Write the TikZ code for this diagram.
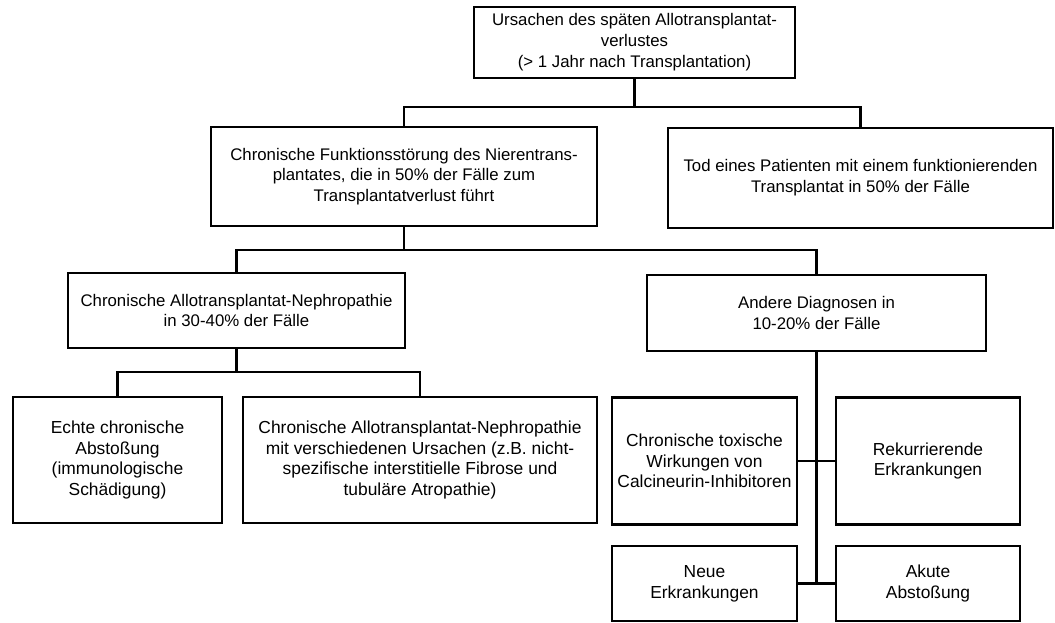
\documentclass[tikz,border=0pt]{standalone}
\usepackage{fontspec}
\setmainfont{Liberation Sans}
\begin{document}
\begin{tikzpicture}[x=1pt,y=1pt,
  box/.style={draw=black, line width=2.1pt, align=center, inner sep=0pt, fill=white,
    font=\fontsize{16.8}{20.7}\selectfont},
  lowbox/.style={box, font=\fontsize{17.4}{20.7}\selectfont},
  conn/.style={line width=2.1pt}]
\useasboundingbox[fill=white] (0,0) rectangle (1055,623);
% boxes (y = 623 - y_image)
\node[box, minimum width=321, minimum height=71, text depth=4pt] (b1) at (634.5,580.5)
  {Ursachen des späten Allotransplantat-\\verlustes\\(> 1 Jahr nach Transplantation)};
\node[box, minimum width=386, minimum height=99] (b2) at (404,446.5)
  {Chronische Funktionsstörung des Nierentrans-\\plantates, die in 50\% der Fälle zum\\Transplantatverlust führt};
\node[box, minimum width=385, minimum height=100] (b3) at (860.5,445)
  {Tod eines Patienten mit einem funktionierenden\\Transplantat in 50\% der Fälle};
\node[box, minimum width=337, minimum height=75] (b4) at (236.5,312.5)
  {Chronische Allotransplantat-Nephropathie\\in 30-40\% der Fälle};
\node[box, minimum width=339, minimum height=76] (b5) at (816.5,310)
  {Andere Diagnosen in\\10-20\% der Fälle};
\node[lowbox, minimum width=209, minimum height=126] (b6) at (117.5,163)
  {Echte chronische\\Abstoßung\\(immunologische\\Schädigung)};
\node[lowbox, minimum width=354, minimum height=126] (b7) at (420,163)
  {Chronische Allotransplantat-Nephropathie\\mit verschiedenen Ursachen (z.B. nicht-\\spezifische interstitielle Fibrose und\\tubuläre Atropathie)};
\node[lowbox, minimum width=185, minimum height=127] (b8) at (704.5,162)
  {Chronische toxische\\Wirkungen von\\Calcineurin-Inhibitoren};
\node[lowbox, minimum width=184, minimum height=127] (b9) at (928,162)
  {Rekurrierende\\Erkrankungen};
\node[lowbox, minimum width=185, minimum height=75] (b10) at (704.5,39.5)
  {Neue\\Erkrankungen};
\node[lowbox, minimum width=184, minimum height=75] (b11) at (928,39.5)
  {Akute\\Abstoßung};
% junctions
\coordinate (j1) at (634.5,516);
\coordinate (j2) at (404,373);
\coordinate (j3) at (236.5,251);
\coordinate (j4) at (816.5,39.5);
% connectors
\draw[conn] (b1.south) -- (j1);
\draw[conn] (b2.north) |- (j1) -| (b3.north);
\draw[conn] (b2.south) -- (j2);
\draw[conn] (b4.north) |- (j2) -| (b5.north);
\draw[conn] (b4.south) -- (j3);
\draw[conn] (b6.north) |- (j3) -| (b7.north);
\draw[conn] (b5.south) -- (j4);
\draw[conn] (b8.east) -- (b9.west);
\draw[conn] (b10.east) -- (b11.west);
\end{tikzpicture}
\end{document}
